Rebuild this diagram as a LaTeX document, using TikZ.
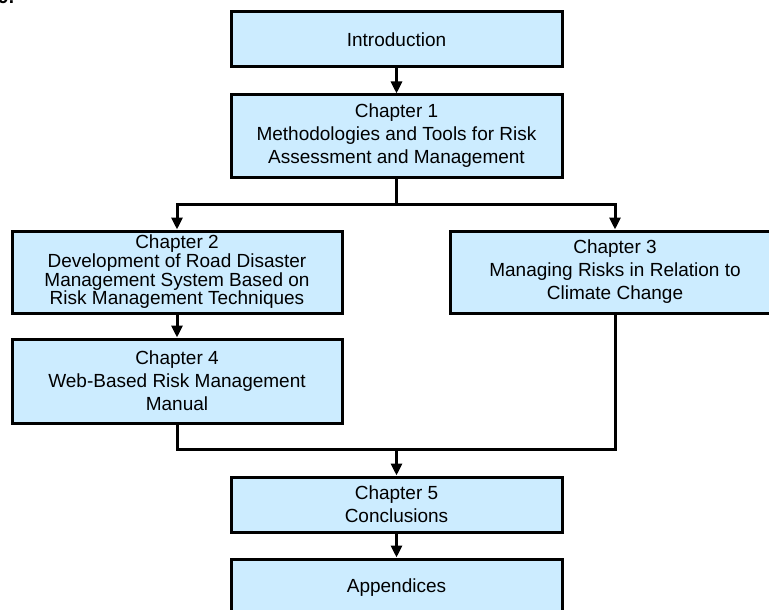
\documentclass[tikz,border=0pt]{standalone}
\usepackage{fontspec}
\setmainfont{Liberation Sans}
\usetikzlibrary{arrows.meta}
\definecolor{boxblue}{RGB}{204,236,255}
\begin{document}
\begin{tikzpicture}[x=1pt,y=-1pt,
  chbox/.style={draw=black, line width=3pt, fill=boxblue, rectangle, align=center,
    inner sep=0pt, font=\fontsize{19}{23}\selectfont},
  conn/.style={line width=3pt, draw=black},
  arr/.style={conn, -{Triangle[length=12pt,width=11pt]}}]
\useasboundingbox[fill=white] (0,0) rectangle (769,610);
\node[anchor=base west, font=\bfseries\fontsize{19}{23}\selectfont, inner sep=0pt] (frag) at (-2,4) {9.};
\node[chbox, minimum width=331pt, minimum height=55pt] (intro) at (396.5,39.5) {Introduction};
\node[chbox, minimum width=331pt, minimum height=82pt] (ch1) at (396.5,136) {Chapter 1\\Methodologies and Tools for Risk\\Assessment and Management};
\node[chbox, minimum width=330pt, minimum height=82pt, font=\fontsize{19}{18.7}\selectfont] (ch2) at (177,272) {Chapter 2\\Development of Road Disaster\\Management System Based on\\Risk Management Techniques};
\node[chbox, minimum width=330pt, minimum height=82pt] (ch3) at (615,272) {Chapter 3\\Managing Risks in Relation to\\Climate Change};
\node[chbox, minimum width=330pt, minimum height=84pt] (ch4) at (177,381) {Chapter 4\\Web-Based Risk Management\\Manual};
\node[chbox, minimum width=331pt, minimum height=55pt] (ch5) at (396.5,504.5) {Chapter 5\\Conclusions};
\node[chbox, minimum width=331pt, minimum height=58pt] (app) at (396.5,588) {Appendices};
\coordinate (split) at (396.5,204);
\coordinate (merge) at (396.5,449);
\draw[arr] (intro.south) -- (ch1.north);
\draw[conn] (ch1.south) -- (split);
\draw[arr] (split) -| (ch2.north);
\draw[arr] (split) -| (ch3.north);
\draw[arr] (ch2.south) -- (ch4.north);
\draw[conn] (ch4.south) |- (merge);
\draw[conn] (ch3.south) |- (merge);
\draw[arr] (merge) -- (ch5.north);
\draw[arr] (ch5.south) -- (app.north);
\end{tikzpicture}
\end{document}
